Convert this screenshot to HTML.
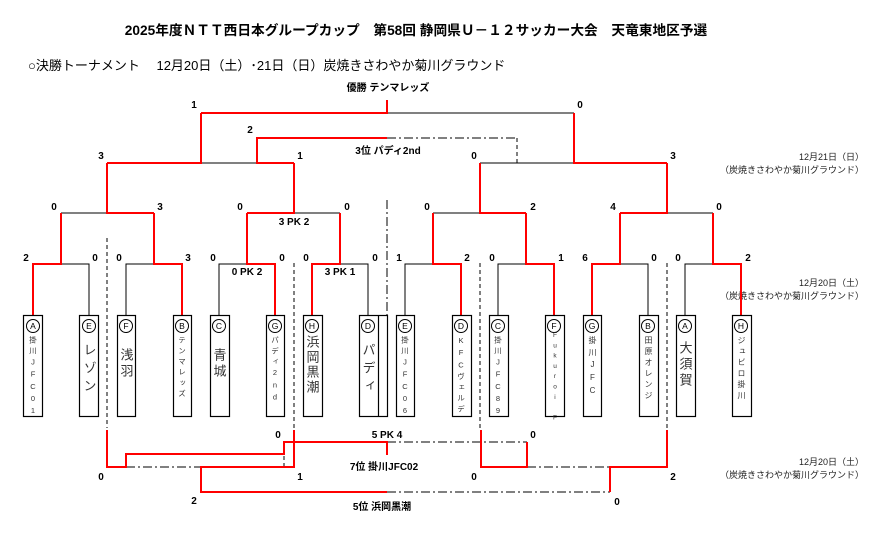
<!DOCTYPE html>
<html><head><meta charset="utf-8"><style>
html,body{margin:0;padding:0;background:#fff}
#w{position:relative;width:888px;height:546px;overflow:hidden;font-family:"Liberation Sans","Noto Sans CJK JP",sans-serif}
.v{position:absolute;writing-mode:vertical-rl;text-orientation:upright;color:#333;white-space:nowrap;line-height:1}
.s{font-size:7.5px;letter-spacing:3.2px;top:336px;width:7.5px}
.l{font-size:13px;letter-spacing:3px;top:338px;width:13px}
</style></head><body><div id="w">
<svg width="888" height="546" style="position:absolute;left:0;top:0" font-family="Liberation Sans, Noto Sans CJK JP, sans-serif">
<g fill="#000">
<text x="416" y="35" font-size="13.7" font-weight="bold" text-anchor="middle">2025年度ＮＴＴ西日本グループカップ　第58回 静岡県Ｕ－１２サッカー大会　天竜東地区予選</text>
<text x="28" y="70" font-size="13">○決勝トーナメント　 12月20日（土）･21日（日）炭焼きさわやか菊川グラウンド</text>
<text x="388" y="91" font-size="10" font-weight="bold" text-anchor="middle">優勝 テンマレッズ</text>
<text x="388" y="154" font-size="10" font-weight="bold" text-anchor="middle">3位 パディ2nd</text>
<g font-size="9" text-anchor="end" fill="#222">
<text x="864" y="160">12月21日（日）</text><text x="864" y="173">（炭焼きさわやか菊川グラウンド）</text>
<text x="864" y="286">12月20日（土）</text><text x="864" y="299">（炭焼きさわやか菊川グラウンド）</text>
<text x="864" y="465">12月20日（土）</text><text x="864" y="478">（炭焼きさわやか菊川グラウンド）</text>
</g>
<g font-size="10" font-weight="bold" text-anchor="middle">
<text x="194" y="108">1</text><text x="580" y="108">0</text><text x="250" y="133">2</text>
<text x="101" y="159">3</text><text x="300" y="159">1</text><text x="474" y="159">0</text><text x="673" y="159">3</text>
<text x="54" y="210">0</text><text x="160" y="210">3</text><text x="240" y="210">0</text><text x="347" y="210">0</text>
<text x="427" y="210">0</text><text x="533" y="210">2</text><text x="613" y="210">4</text><text x="719" y="210">0</text>
<text x="294" y="225">3 PK 2</text><text x="247" y="275">0 PK 2</text><text x="340" y="275">3 PK 1</text>
<text x="26" y="261">2</text><text x="95" y="261">0</text><text x="119" y="261">0</text><text x="188" y="261">3</text>
<text x="213" y="261">0</text><text x="282" y="261">0</text><text x="306" y="261">0</text><text x="375" y="261">0</text>
<text x="399" y="261">1</text><text x="467" y="261">2</text><text x="492" y="261">0</text><text x="561" y="261">1</text>
<text x="585" y="261">6</text><text x="654" y="261">0</text><text x="678" y="261">0</text><text x="748" y="261">2</text>
<text x="278" y="438">0</text><text x="387" y="438">5 PK 4</text><text x="533" y="438">0</text>
<text x="101" y="480">0</text><text x="300" y="480">1</text><text x="474" y="480">0</text><text x="673" y="480">2</text>
<text x="384" y="470">7位 掛川JFC02</text>
<text x="194" y="504">2</text><text x="617" y="505">0</text>
<text x="382" y="510">5位 浜岡黒潮</text>
</g></g>
<g stroke="#000" stroke-width="1" fill="none">
<path d="M61 264H89V315M154 264H126V315M247 264H219V315M340 264H368V315M433 264H405V315M526 264H498V315M620 264H648V315M713 264H685V315"/>
<path d="M107 213H61M294 213H340M480 213H433M667 213H713"/>
<path d="M201 163H257M480 163H574M387 113H574"/>
<path d="M517 138V163" stroke-dasharray="4,3"/>
<path d="M387 138H517M387 442H527M527 467H610M126 467H201M387 492H610" stroke-dasharray="9,3,2,3"/>
<path d="M107 238V428M294 263V428M480 263V428M667 263V428M284 442V467" stroke-dasharray="4,3"/>
<path d="M387 200V315" stroke-dasharray="9,3,2,3"/>
<path d="M387 315V416"/>
</g>
<g stroke="#f00" stroke-width="2" fill="none">
<path d="M33 315V264H61V213M182 315V264H154V213M275 315V264H247V213M312 315V264H340V213M461 315V264H433V213M554 315V264H526V213M592 315V264H620V213M741 315V264H713V213"/>
<path d="M154 213H107V163M247 213H294V163M526 213H480V163M620 213H667V163"/>
<path d="M107 163H201V113M667 163H574V113M201 113H387V100"/>
<path d="M294 163H257V138H387"/>
<path d="M107 430V467H126V454H284V442H387V455"/>
<path d="M481 430V467H527V442"/>
<path d="M294 430V467H201V492H387"/>
<path d="M667 430V467H610V492"/>
</g>
<g stroke="#000" stroke-width="1.2" fill="#fff">
<rect x="23.5" y="315.5" width="19" height="101"/><rect x="79.5" y="315.5" width="19" height="101"/>
<rect x="117.5" y="315.5" width="18" height="101"/><rect x="173.5" y="315.5" width="18" height="101"/>
<rect x="210.5" y="315.5" width="19" height="101"/><rect x="266.5" y="315.5" width="18" height="101"/>
<rect x="303.5" y="315.5" width="19" height="101"/><rect x="359.5" y="315.5" width="28" height="101"/>
<rect x="396.5" y="315.5" width="18" height="101"/><rect x="452.5" y="315.5" width="19" height="101"/>
<rect x="489.5" y="315.5" width="19" height="101"/><rect x="545.5" y="315.5" width="19" height="101"/>
<rect x="583.5" y="315.5" width="18" height="101"/><rect x="639.5" y="315.5" width="19" height="101"/>
<rect x="676.5" y="315.5" width="19" height="101"/><rect x="732.5" y="315.5" width="19" height="101"/>
<path d="M378.5 315V416" fill="none"/>
</g>
<g stroke="#000" stroke-width="1" fill="#fff">
<circle cx="33" cy="326" r="6.5"/><circle cx="89" cy="326" r="6.5"/><circle cx="126" cy="326" r="6.5"/><circle cx="182" cy="326" r="6.5"/>
<circle cx="219" cy="326" r="6.5"/><circle cx="275" cy="326" r="6.5"/><circle cx="312" cy="326" r="6.5"/><circle cx="368" cy="326" r="6.5"/>
<circle cx="405" cy="326" r="6.5"/><circle cx="461" cy="326" r="6.5"/><circle cx="498" cy="326" r="6.5"/><circle cx="554" cy="326" r="6.5"/>
<circle cx="592" cy="326" r="6.5"/><circle cx="648" cy="326" r="6.5"/><circle cx="685" cy="326" r="6.5"/><circle cx="741" cy="326" r="6.5"/>
</g>
<g font-size="8.5" text-anchor="middle" fill="#000">
<text x="33" y="329">A</text><text x="89" y="329">E</text><text x="126" y="329">F</text><text x="182" y="329">B</text>
<text x="219" y="329">C</text><text x="275" y="329">G</text><text x="312" y="329">H</text><text x="368" y="329">D</text>
<text x="405" y="329">E</text><text x="461" y="329">D</text><text x="498" y="329">C</text><text x="554" y="329">F</text>
<text x="592" y="329">G</text><text x="648" y="329">B</text><text x="685" y="329">A</text><text x="741" y="329">H</text>
</g>
</svg>
<div class="v s" style="left:29px">掛川JFC01</div>
<div class="v l" style="left:82.5px;top:343px;letter-spacing:5px">レゾン</div>
<div class="v l" style="left:119.5px;top:348px">浅羽</div>
<div class="v s" style="left:178px">テンマレッズ</div>
<div class="v l" style="left:212.5px;top:348px">青城</div>
<div class="v s" style="left:271px">パディ2nd</div>
<div class="v l" style="left:305.5px;top:335px;letter-spacing:2px">浜岡黒潮</div>
<div class="v l" style="left:361.5px;top:343px;letter-spacing:5px">パディ</div>
<div class="v s" style="left:401px">掛川JFC06</div>
<div class="v s" style="left:457px">KFCヴェルデ</div>
<div class="v s" style="left:494px">掛川JFC89</div>
<div class="v s" style="left:551px;top:332px;font-size:6.5px;width:6.5px;letter-spacing:3.3px">Fukuroi F</div>
<div class="v s" style="left:588px;font-size:8px;width:8px;letter-spacing:4px">掛川JFC</div>
<div class="v s" style="left:644px;font-size:8px;width:8px;letter-spacing:3px">田原オレンジ</div>
<div class="v l" style="left:678.5px;top:341px;letter-spacing:3px">大須賀</div>
<div class="v s" style="left:737px;font-size:8px;width:8px;letter-spacing:3px">ジュビロ掛川</div>
</div></body></html>
